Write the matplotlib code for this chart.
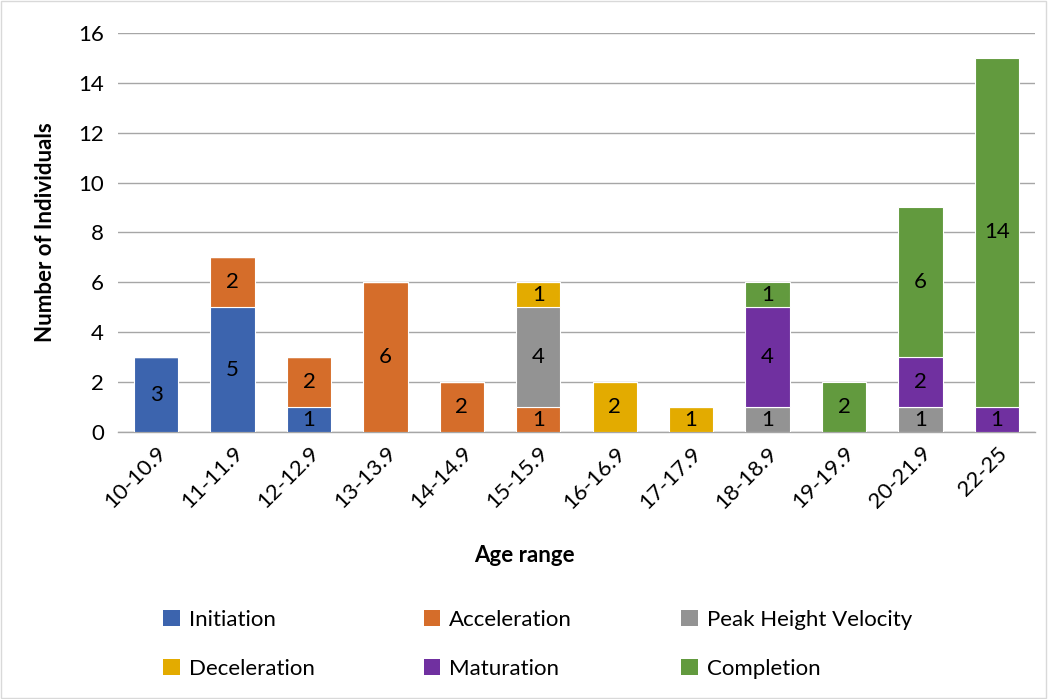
import numpy as np
import matplotlib
matplotlib.use('Agg')
import matplotlib.pyplot as plt
from matplotlib.patches import Rectangle, Patch

plt.rcParams['font.family'] = ['Lato', 'DejaVu Sans']

age_ranges = ['10-10.9', '11-11.9', '12-12.9', '13-13.9', '14-14.9', '15-15.9',
              '16-16.9', '17-17.9', '18-18.9', '19-19.9', '20-21.9', '22-25']
initiation = [3, 5, 1, 0, 0, 0, 0, 0, 0, 0, 0, 0]
acceleration = [0, 2, 2, 6, 2, 1, 0, 0, 0, 0, 0, 0]
peak_height_velocity = [0, 0, 0, 0, 0, 4, 0, 0, 1, 0, 1, 0]
deceleration = [0, 0, 0, 0, 0, 1, 2, 1, 0, 0, 0, 0]
maturation = [0, 0, 0, 0, 0, 0, 0, 0, 4, 0, 2, 1]
completion = [0, 0, 0, 0, 0, 0, 0, 0, 1, 2, 6, 14]

series = [
    ('Initiation', initiation, '#3C64AE'),
    ('Acceleration', acceleration, '#D56D2A'),
    ('Peak Height Velocity', peak_height_velocity, '#939393'),
    ('Deceleration', deceleration, '#E3AB00'),
    ('Maturation', maturation, '#7030A0'),
    ('Completion', completion, '#629A3E'),
]

FS = 16

fig = plt.figure(figsize=(10.48, 6.99), dpi=100)
ax = fig.add_axes([0.1126, 0.382, 0.875, 0.571])

x = np.arange(len(age_ranges))
bottom = np.zeros(len(age_ranges))
for name, vals, col in series:
    vals = np.array(vals, dtype=float)
    ax.bar(x, vals, 0.58, bottom=bottom, color=col, edgecolor='white',
           linewidth=0.8, label=name, zorder=3)
    for xi, v, b in zip(x, vals, bottom):
        if v > 0:
            ax.text(xi, b + v / 2, f'{int(v)}', ha='center', va='center',
                    fontsize=FS, color='black', zorder=4)
    bottom += vals

ax.set_xlim(-0.5, len(age_ranges) - 0.5)
ax.set_ylim(0, 16)
ax.set_yticks(range(0, 17, 2))
ax.yaxis.grid(True, color='#a6a6a6', linewidth=1, zorder=0)
ax.set_xticks(x)
ax.set_xticklabels(age_ranges, rotation=45, ha='right', rotation_mode='anchor')
ax.tick_params(axis='y', length=0, labelsize=FS, pad=10)
ax.tick_params(axis='x', length=0, labelsize=FS, pad=8)
for s in ['top', 'right', 'left']:
    ax.spines[s].set_visible(False)
ax.spines['bottom'].set_color('#a6a6a6')
ax.spines['bottom'].set_linewidth(1)

ax.set_ylabel('Number of Individuals', fontsize=FS, fontweight='bold', labelpad=16)
fig.text(0.5, 0.205, 'Age range', ha='center', va='center', fontsize=FS,
         fontweight='bold')

# legend: 3 columns, column-major ordering
order = [0, 3, 1, 4, 2, 5]
handles = [Patch(facecolor=series[i][2]) for i in order]
labels = [series[i][0] for i in order]
fig.legend(handles, labels, ncol=3, loc='center', bbox_to_anchor=(0.513, 0.078),
           frameon=False, fontsize=FS, handlelength=0.75, handleheight=0.75,
           handletextpad=0.4, columnspacing=4.9, labelspacing=1.3)

fig.patches.append(Rectangle((0.001, 0.001), 0.997, 0.997, transform=fig.transFigure,
                             fill=False, edgecolor='#d9d9d9', linewidth=1))

fig.savefig('out.png', dpi=100)
